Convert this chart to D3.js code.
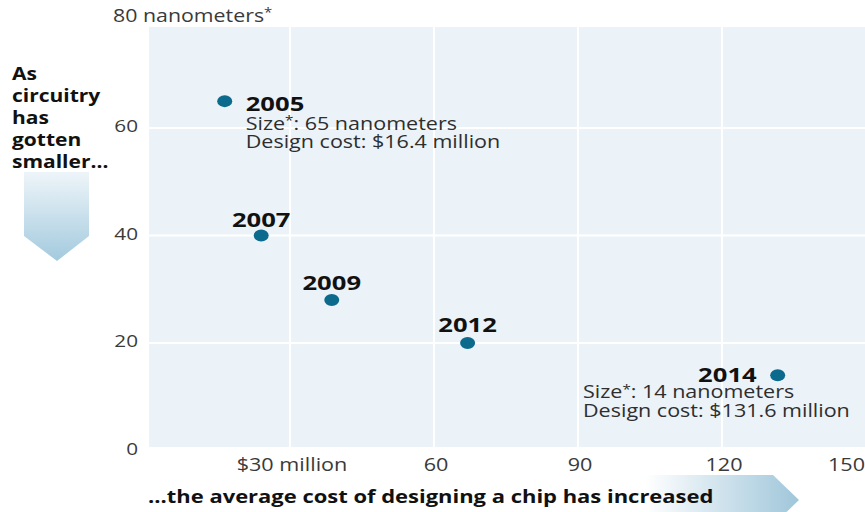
<!DOCTYPE html>
<html>
<head>
<meta charset="utf-8">
<script src="https://cdn.jsdelivr.net/npm/d3@7"></script>
<style>
  html, body { margin: 0; padding: 0; background: #fff; }
  svg { display: block; font-family: "Open Sans", "Noto Sans", sans-serif; }
</style>
</head>
<body>
<svg id="chart" width="865" height="512"></svg>
<script>
// Chip design: feature size (nm) vs. average design cost ($ million)
const years = ["2005", "2007", "2009", "2012", "2014"];
const designCost = [16.4, 24, 38.7, 67, 131.6];
const featureSize = [65, 40, 28, 20, 14];

const xTickValues = [30, 60, 90, 120, 150];
const xTickLabels = ["$30 million", "60", "90", "120", "150"];
const yTickValues = [0, 20, 40, 60, 80];
const yTickLabels = ["0", "20", "40", "60", "80 nanometers"];

const detailLines = {
  "2005": [["Size", ": 65 nanometers"], ["Design cost: $16.4 million"]],
  "2014": [["Size", ": 14 nanometers"], ["Design cost: $131.6 million"]]
};
const leftNote = ["As", "circuitry", "has", "gotten", "smaller…"];
const bottomNote = "…the average cost of designing a chip has increased";

// ---- layout ----
const plot = { left: 149, right: 865, top: 27, bottom: 447 };

const svg = d3.select("#chart");
const x = d3.scaleLinear().domain([0, 150]).range([146, 866]);
const y = d3.scaleLinear().domain([0, 80]).range([450.5, 20.5]);

// text helper: slightly widened glyphs anchored at (px, py)
function label(g, px, py, txt, opts = {}) {
  return g.append("text")
    .attr("transform", `translate(${px},${py}) scale(${opts.sx || 1.2},1)`)
    .attr("text-anchor", opts.anchor || "start")
    .attr("font-size", opts.size || 17)
    .attr("font-weight", opts.weight || 400)
    .attr("fill", opts.fill || "#333")
    .text(txt);
}
// small raised footnote asterisk
function star(t, size) {
  t.append("tspan").attr("font-size", size * 0.7).attr("dy", -size * 0.25).text("*");
  return t;
}

const defs = svg.append("defs");
const gDown = defs.append("linearGradient").attr("id", "gradDown")
  .attr("x1", 0).attr("y1", 0).attr("x2", 0).attr("y2", 1);
gDown.append("stop").attr("offset", "0%").attr("stop-color", "#eef5f9");
gDown.append("stop").attr("offset", "100%").attr("stop-color", "#a3cade");

const gRight = defs.append("linearGradient").attr("id", "gradRight")
  .attr("gradientUnits", "userSpaceOnUse")
  .attr("x1", 645).attr("y1", 0).attr("x2", 800).attr("y2", 0);
gRight.append("stop").attr("offset", "0%").attr("stop-color", "#ffffff");
gRight.append("stop").attr("offset", "100%").attr("stop-color", "#9fc6da");

// plot panel
svg.append("rect")
  .attr("x", plot.left).attr("y", plot.top)
  .attr("width", plot.right - plot.left).attr("height", plot.bottom - plot.top)
  .attr("fill", "#ebf2f8");

// grid
const grid = svg.append("g").attr("stroke", "#ffffff").attr("stroke-width", 2);
grid.selectAll("line.v").data(xTickValues.filter(v => x(v) < plot.right)).join("line")
  .attr("class", "v")
  .attr("x1", d => x(d)).attr("x2", d => x(d))
  .attr("y1", plot.top).attr("y2", plot.bottom);
grid.selectAll("line.h").data(yTickValues.filter(v => v > 0 && y(v) > plot.top)).join("line")
  .attr("class", "h")
  .attr("x1", plot.left).attr("x2", plot.right)
  .attr("y1", d => y(d)).attr("y2", d => y(d));

// y-axis labels
const yAxisG = svg.append("g");
yTickValues.forEach((v, i) => {
  const top = v === 80;
  const t = label(yAxisG, top ? 113 : 138, y(v) + (top ? 1 : 4), yTickLabels[i],
    { size: top ? 17.5 : 17, sx: 1.22, anchor: top ? "start" : "end", fill: "#3a3a3a" });
  if (top) star(t, 17.5);
});

// x-axis labels
const xAxisG = svg.append("g");
xTickValues.forEach((v, i) => {
  const last = i === xTickValues.length - 1;
  label(xAxisG, last ? 865 : x(v) + 2, 471, xTickLabels[i],
    { size: 18, sx: 1.2, anchor: last ? "end" : "middle", fill: "#3a3a3a" });
});

// points
const pts = years.map((yr, i) => ({ yr, cost: designCost[i], size: featureSize[i] }));
svg.append("g").selectAll("ellipse").data(pts).join("ellipse")
  .attr("cx", d => x(d.cost)).attr("cy", d => y(d.size))
  .attr("rx", 7.5).attr("ry", 6)
  .attr("fill", "#0c6a8c");

// year labels and details
const placement = {
  "2005": { dx: 21, dy: 10, anchor: "start", first: 18.5, step: 18.5 },
  "2007": { dx: 0, dy: -9, anchor: "middle" },
  "2009": { dx: 0, dy: -10, anchor: "middle" },
  "2012": { dx: 0, dy: -11, anchor: "middle" },
  "2014": { dx: -21, dy: 6.5, anchor: "end", first: 16.5, step: 18.5 }
};
const labG = svg.append("g");
pts.forEach(d => {
  const p = placement[d.yr];
  const cx = x(d.cost), cy = y(d.size);
  label(labG, cx + p.dx, cy + p.dy, d.yr, { size: 20, sx: 1.28, weight: 700, anchor: p.anchor, fill: "#111" });
  const lines = detailLines[d.yr];
  if (lines) {
    const lx = d.yr === "2014" ? 583 : cx + p.dx;
    lines.forEach((parts, k) => {
      const t = label(labG, lx, cy + p.dy + p.first + k * p.step, parts[0], { size: 17.5, sx: 1.23, fill: "#2e2e2e" });
      if (parts.length > 1) {
        star(t, 17.5);
        t.append("tspan").attr("dy", 17.5 * 0.25).text(parts[1]);
      }
    });
  }
});

// left note with downward arrow
svg.append("path")
  .attr("d", "M24,172 L89,172 L89,236 L57,261 L24,236 Z")
  .attr("fill", "url(#gradDown)");
const noteG = svg.append("g");
leftNote.forEach((t, i) => {
  label(noteG, 12, 80 + i * 22, t, { size: 17.5, sx: 1.2, weight: 700, fill: "#111" });
});

// bottom note with rightward arrow
svg.append("path")
  .attr("d", "M640,475 L773,475 L799,500 L773,525 L640,525 Z")
  .attr("fill", "url(#gradRight)");
label(svg, 148, 503, bottomNote, { size: 18.3, sx: 1.2, weight: 700, fill: "#111" });
</script>
</body>
</html>
